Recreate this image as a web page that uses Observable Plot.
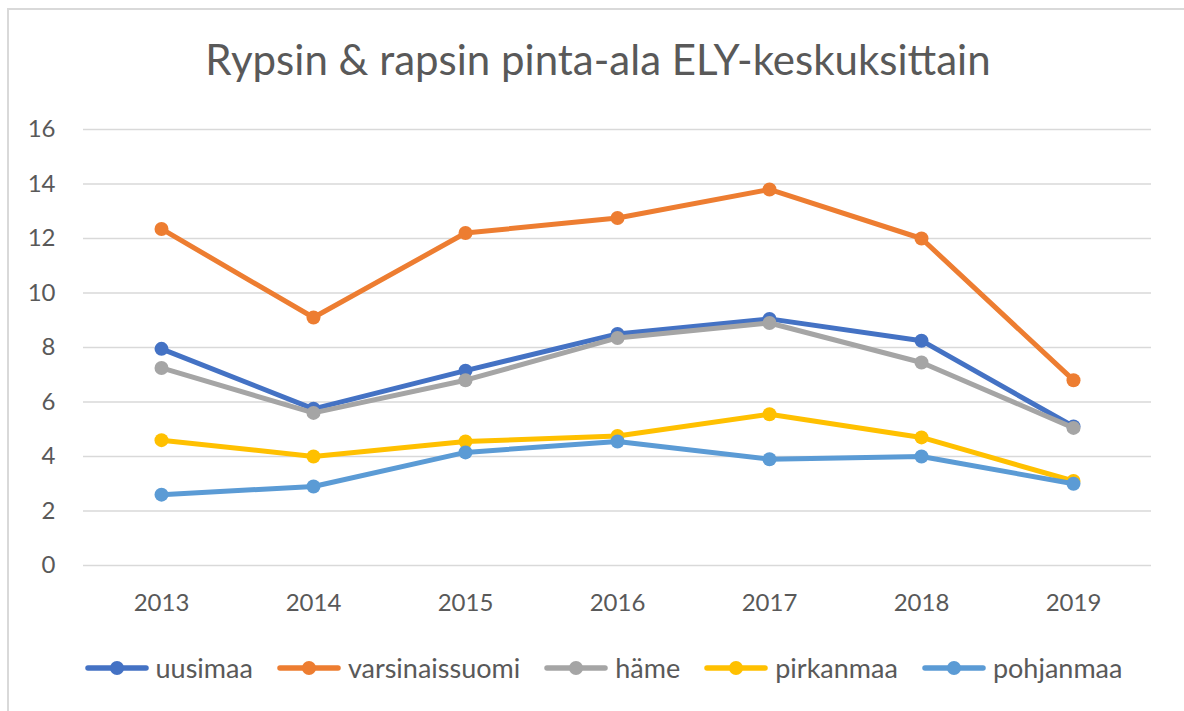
<!DOCTYPE html>
<html><head><meta charset="utf-8">
<script src="https://cdn.jsdelivr.net/npm/d3@7"></script>
<script src="https://cdn.jsdelivr.net/npm/@observablehq/plot@0.6"></script>
<style>
body{margin:0;background:#fff;font-family:Lato, "Open Sans", sans-serif;}
#wrap{position:relative;width:1184px;height:711px;overflow:hidden;background:#fff;}
#frame{position:absolute;left:7px;top:8px;width:1200px;height:720px;border:2px solid #d9d9d9;box-sizing:border-box;}
#title{position:absolute;top:34px;left:6px;width:1184px;text-align:center;font-size:42px;color:#595959;white-space:nowrap;}
#chart{position:absolute;left:0;top:0;}
#legend{position:absolute;top:651px;left:11px;width:1184px;display:flex;justify-content:center;align-items:center;gap:23px;font-size:27px;color:#595959;}
.item{display:flex;align-items:center;}
.item span{margin-left:6px;}
</style>
</head><body>
<div id="wrap">
  <div id="frame"></div>
  <div id="chart"></div>
  <div id="title">Rypsin &amp; rapsin pinta-ala ELY-keskuksittain</div>
  <div id="legend"></div>
</div>
<script>
const years = ["2013","2014","2015","2016","2017","2018","2019"];
const seriesNames = ["uusimaa","varsinaissuomi","häme","pirkanmaa","pohjanmaa"];
const seriesColors = ["#4472C4","#ED7D31","#A5A5A5","#FFC000","#5B9BD5"];
const uusimaa        = [7.95, 5.75, 7.15, 8.5, 9.05, 8.25, 5.1];
const varsinaissuomi = [12.35, 9.1, 12.2, 12.75, 13.8, 12.0, 6.8];
const hame           = [7.25, 5.6, 6.8, 8.35, 8.9, 7.45, 5.05];
const pirkanmaa      = [4.6, 4.0, 4.55, 4.75, 5.55, 4.7, 3.1];
const pohjanmaa      = [2.6, 2.9, 4.15, 4.55, 3.9, 4.0, 3.0];
const yTicks = [0,2,4,6,8,10,12,14,16];

const seriesValues = [uusimaa, varsinaissuomi, hame, pirkanmaa, pohjanmaa];
const data = [];
seriesNames.forEach((s, i) => years.forEach((y, j) => data.push({series: s, year: y, value: seriesValues[i][j]})));

const marks = [
  Plot.ruleY(yTicks, {stroke: "#d9d9d9", strokeWidth: 1.5}),
  Plot.axisY({ticks: yTicks, tickSize: 0, tickPadding: 28, label: null}),
  Plot.axisX({tickSize: 0, tickPadding: 28, label: null})
];
seriesNames.forEach((s, i) => {
  const d = data.filter(r => r.series === s);
  marks.push(Plot.lineY(d, {x: "year", y: "value", stroke: seriesColors[i], strokeWidth: 5, strokeLinejoin: "round", strokeLinecap: "round"}));
  marks.push(Plot.dot(d, {x: "year", y: "value", fill: seriesColors[i], r: 7}));
});

const chart = Plot.plot({
  width: 1184, height: 711,
  marginTop: 129, marginBottom: 146, marginLeft: 83, marginRight: 33,
  style: {fontSize: "24px", fontFamily: "Lato, 'Open Sans', sans-serif", color: "#595959", background: "transparent"},
  x: {type: "point", domain: years, padding: 0.5},
  y: {domain: [0, 16]},
  marks
});
document.getElementById("chart").appendChild(chart);

const legend = document.getElementById("legend");
seriesNames.forEach((s, i) => {
  const item = document.createElement("div");
  item.className = "item";
  item.innerHTML = `<svg width="66" height="20"><line x1="4" x2="62" y1="10" y2="10" stroke="${seriesColors[i]}" stroke-width="5.5" stroke-linecap="round"/><circle cx="33" cy="10" r="7" fill="${seriesColors[i]}"/></svg><span>${s}</span>`;
  legend.appendChild(item);
});
</script>
</body></html>
